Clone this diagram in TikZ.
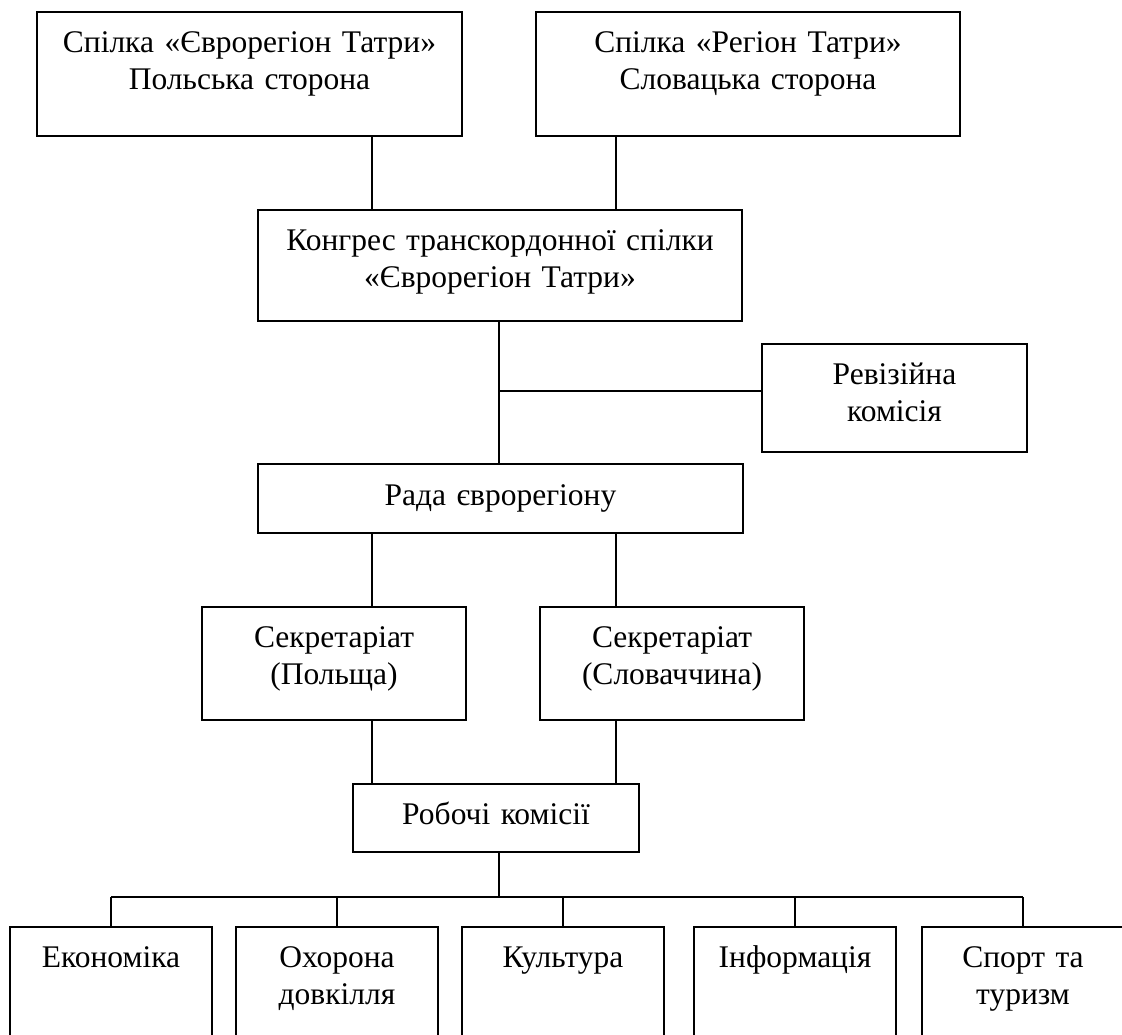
\documentclass[tikz,border=0pt]{standalone}
\usepackage{fontspec}
\setmainfont{Liberation Serif}
\tikzset{
  box/.style 2 args = {draw, rectangle, anchor=north, align=center, inner sep=0pt,
                       text width=#1, text height=20.5pt, text depth=#2,
                       line width=0.75pt},
  ln/.style = {line width=0.75pt},
}

\begin{document}
\begin{tikzpicture}[x=0.5pt, y=-0.5pt, font=\fontsize{15.75}{18.5}\selectfont]
  \useasboundingbox (0,0) rectangle (1122,1034);
  \clip (0,0) rectangle (1122,1034);
  % nodes
  \node[box={212.5pt}{41.5pt}] (pl) at (249.5,11) {Спілка «Єврорегіон Татри»\\Польська сторона};
  \node[box={212pt}{41.5pt}]   (sk) at (748,11) {Спілка «Регіон Татри»\\Словацька сторона};
  \node[box={242pt}{35pt}]     (kong) at (500,209) {Конгрес транскордонної спілки\\«Єврорегіон Татри»};
  \node[box={132.5pt}{33.5pt}] (rev) at (894.5,343) {Ревізійна\\комісія};
  \node[box={242.5pt}{13.5pt}, text height=21pt] (rada) at (500.5,463) {Рада єврорегіону};
  \node[box={132pt}{36pt}]     (secp) at (334,606) {Секретаріат\\(Польща)};
  \node[box={132pt}{36pt}]     (secs) at (672,606) {Секретаріат\\(Словаччина)};
  \node[box={143pt}{13.5pt}]   (rob) at (496,783) {Робочі комісії};
  \node[box={101pt}{52pt}]     (ek) at (111,926) {Економіка};
  \node[box={101pt}{52pt}]     (oh) at (337,926) {Охорона\\довкілля};
  \node[box={101pt}{52pt}]     (ku) at (563,926) {Культура};
  \node[box={101pt}{52pt}]     (inf) at (795,926) {Інформація};
  \node[box={101pt}{52pt}]     (sp) at (1023,926) {Спорт та\\туризм};
  % branch points
  \coordinate (lx) at (372,0);
  \coordinate (rx) at (616,0);
  \coordinate (jn) at (499,391);
  \coordinate (bar) at (0,897);
  % connectors
  \draw[ln] (pl.south -| lx) -- (kong.north -| lx);
  \draw[ln] (sk.south -| rx) -- (kong.north -| rx);
  \draw[ln] (kong.south -| jn) -- (rada.north -| jn);
  \draw[ln] (jn) -- (jn -| rev.west);
  \draw[ln] (rada.south -| lx) -- (secp.north -| lx);
  \draw[ln] (rada.south -| rx) -- (secs.north -| rx);
  \draw[ln] (secp.south -| lx) -- (rob.north -| lx);
  \draw[ln] (secs.south -| rx) -- (rob.north -| rx);
  \draw[ln] (rob.south -| jn) -- (bar -| jn);
  \draw[ln] (bar -| ek.north) -- (bar -| sp.north);
  \foreach \n in {ek, oh, ku, inf, sp}
    \draw[ln] (bar -| \n.north) -- (\n.north);
\end{tikzpicture}
\end{document}
